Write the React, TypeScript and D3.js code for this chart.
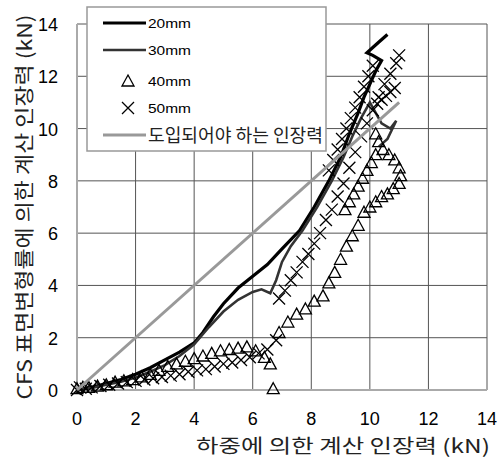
import React, { useRef, useEffect } from 'react';
import * as d3 from 'd3';

// 축 눈금
const xTicks = [0, 2, 4, 6, 8, 10, 12, 14];
const yTicks = [0, 2, 4, 6, 8, 10, 12, 14];

// 20mm (실선, 검정)
const s20: [number, number][] = [
  [0, 0], [0.5, 0.1], [1, 0.25], [1.5, 0.4], [2, 0.6], [2.5, 0.85], [3, 1.15], [3.5, 1.45],
  [4, 1.8], [4.3, 2.2], [4.66, 2.8], [5, 3.3], [5.5, 3.9], [6, 4.35], [6.5, 4.8], [7, 5.4],
  [7.6, 6.1], [8.1, 7.0], [8.6, 8.0], [9.0, 8.9], [9.3, 9.8], [9.6, 10.6], [9.8, 11.2],
  [10.0, 11.7], [10.2, 12.2], [10.4, 12.6], [10.1, 12.8], [9.9, 12.9], [10.1, 13.1],
  [10.3, 13.3], [10.6, 13.6],
];

// 30mm (실선, 진회색)
const s30: [number, number][] = [
  [0, 0], [0.5, 0.08], [1, 0.2], [1.5, 0.32], [2, 0.48], [2.5, 0.7], [3, 0.95], [3.5, 1.3],
  [4, 1.75], [4.5, 2.4], [5, 3.0], [5.5, 3.45], [6, 3.75], [6.3, 3.85], [6.6, 3.7], [6.8, 4.2],
  [7.0, 4.9], [7.3, 5.5], [7.7, 6.1], [8.2, 7.0], [8.7, 8.0], [9.1, 8.9], [9.4, 9.7],
  [9.7, 10.4], [10.0, 11.0], [10.2, 10.6], [10.4, 10.2], [10.7, 10.0], [10.9, 10.3],
  [10.6, 9.6], [10.3, 9.3],
];

// 40mm (삼각형)
const s40: [number, number][] = [
  [0, 0.05], [0.2, 0.1], [0.4, 0.1], [0.7, 0.15], [1.0, 0.2], [1.3, 0.3], [1.6, 0.35],
  [1.9, 0.4], [2.2, 0.5], [2.5, 0.6], [2.8, 0.75], [3.1, 0.9], [3.4, 1.0], [3.7, 1.1],
  [4.0, 1.2], [4.3, 1.3], [4.6, 1.4], [4.9, 1.5], [5.2, 1.55], [5.5, 1.6], [5.8, 1.65],
  [6.1, 1.5], [6.4, 1.25], [6.6, 1.0], [6.7, 0.05], [6.9, 2.2], [7.2, 2.6], [7.5, 2.9],
  [7.8, 3.1], [8.1, 3.4], [8.4, 3.6], [8.6, 4.1], [8.8, 4.5], [9.0, 5.0], [9.2, 5.5],
  [9.4, 5.9], [9.6, 6.3], [9.8, 6.8], [10.0, 7.0], [10.2, 7.2], [10.4, 7.4], [10.6, 7.5],
  [10.8, 7.7], [11.0, 7.9], [11.05, 8.2], [11.0, 8.5], [10.85, 8.8], [10.65, 9.0],
  [10.45, 9.2], [10.3, 9.5], [10.2, 9.8], [10.2, 9.0], [10.05, 8.7], [9.9, 8.4],
  [9.75, 8.1], [9.6, 7.8], [9.45, 7.5], [9.3, 7.2], [9.15, 6.9],
];

// 50mm (X 표시)
const s50: [number, number][] = [
  [0, 0], [0.1, 0.1], [0.3, 0.05], [0.5, 0.1], [0.8, 0.15], [1.1, 0.2], [1.4, 0.25],
  [1.7, 0.3], [2.0, 0.35], [2.3, 0.4], [2.6, 0.45], [2.9, 0.5], [3.2, 0.55], [3.5, 0.6],
  [3.8, 0.7], [4.1, 0.75], [4.4, 0.8], [4.7, 0.9], [5.0, 1.0], [5.3, 1.05], [5.6, 1.15],
  [5.9, 1.25], [6.2, 1.4], [6.5, 1.55], [6.8, 1.9], [6.9, 3.5], [7.1, 3.8], [7.3, 4.2],
  [7.5, 4.5], [7.7, 4.9], [7.9, 5.2], [8.1, 5.6], [8.3, 6.0], [8.5, 6.5], [8.7, 6.9],
  [8.9, 7.4], [9.1, 7.9], [9.3, 8.5], [9.5, 9.1], [9.7, 9.7], [9.9, 10.2], [10.1, 10.7],
  [10.3, 11.2], [10.5, 11.7], [10.7, 12.1], [10.9, 12.5], [11.0, 12.8],
  [8.6, 8.4], [8.75, 8.8], [8.9, 9.2], [9.05, 9.6], [9.2, 10.0], [9.35, 10.4], [9.5, 10.8],
  [9.65, 11.2], [9.8, 11.6], [9.95, 12.0], [10.1, 12.4],
  [10.25, 10.95], [10.4, 11.1], [10.55, 11.25], [10.7, 11.4], [10.85, 11.55],
];

// 도입되어야 하는 인장력 (y = x)
const sTarget: [number, number][] = [[0, 0], [11, 11]];

const App = () => {
  const svgRef = useRef<SVGSVGElement>(null);

  useEffect(() => {
    const width = 503;
    const height = 460;
    const svg = d3.select(svgRef.current);
    svg.selectAll('*').remove();
    svg.attr('width', width).attr('height', height);

    const x = d3.scaleLinear().domain([0, 14]).range([77, 487]);
    const y = d3.scaleLinear().domain([0, 14]).range([390, 24]);

    const num = 'Liberation Sans, Arial, sans-serif';
    const kor = 'Noto Sans CJK KR, sans-serif';

    // 격자
    const grid = svg.append('g');
    grid.selectAll('.gx').data(xTicks.slice(1)).enter().append('line')
      .attr('x1', d => x(d)).attr('x2', d => x(d))
      .attr('y1', y(0)).attr('y2', y(14))
      .attr('stroke', '#555').attr('stroke-width', 1);
    grid.selectAll('.gy').data(yTicks.slice(1)).enter().append('line')
      .attr('x1', x(0)).attr('x2', x(14))
      .attr('y1', d => y(d)).attr('y2', d => y(d))
      .attr('stroke', '#555').attr('stroke-width', 1);
    // 축선
    grid.append('line').attr('x1', x(0)).attr('x2', x(14)).attr('y1', y(0)).attr('y2', y(0))
      .attr('stroke', '#aaa').attr('stroke-width', 2);
    grid.append('line').attr('x1', x(0)).attr('x2', x(0)).attr('y1', y(0)).attr('y2', y(14))
      .attr('stroke', '#aaa').attr('stroke-width', 2);

    // 눈금 라벨
    svg.selectAll('.tx').data(xTicks).enter().append('text')
      .attr('x', d => x(d)).attr('y', 425)
      .attr('text-anchor', 'middle')
      .style('font-family', num).style('font-size', '18px')
      .text(d => d);
    svg.selectAll('.ty').data(yTicks).enter().append('text')
      .attr('x', 58).attr('y', d => y(d) + 7)
      .attr('text-anchor', 'end')
      .style('font-family', num).style('font-size', '18px')
      .text(d => d);

    // 축 제목
    svg.append('text')
      .attr('transform', `translate(32,207) rotate(-90)`)
      .attr('text-anchor', 'middle')
      .attr('textLength', 385).attr('lengthAdjust', 'spacingAndGlyphs')
      .style('font-family', kor).style('font-size', '20px').attr('fill', '#222')
      .text('CFS 표면변형률에 의한 계산 인장력 (kN)');
    svg.append('text')
      .attr('x', 196).attr('y', 453)
      .attr('textLength', 294).attr('lengthAdjust', 'spacingAndGlyphs')
      .style('font-family', kor).style('font-size', '19px').attr('fill', '#222')
      .text('하중에 의한 계산 인장력 (kN)');

    const line = d3.line<[number, number]>().x(d => x(d[0])).y(d => y(d[1]));

    const tri = (g: any, cx: number, cy: number) => {
      g.append('path')
        .attr('d', `M${cx},${cy - 6}L${cx + 6},${cy + 5}L${cx - 6},${cy + 5}Z`)
        .attr('fill', 'none').attr('stroke', '#000').attr('stroke-width', 1.3);
    };
    const cross = (g: any, cx: number, cy: number) => {
      g.append('path')
        .attr('d', `M${cx - 6},${cy - 6}L${cx + 6},${cy + 6}M${cx - 6},${cy + 6}L${cx + 6},${cy - 6}`)
        .attr('fill', 'none').attr('stroke', '#000').attr('stroke-width', 1.3);
    };

    // 시리즈
    svg.append('path').datum(s20).attr('d', line)
      .attr('fill', 'none').attr('stroke', '#000').attr('stroke-width', 3.2);
    svg.append('path').datum(s30).attr('d', line)
      .attr('fill', 'none').attr('stroke', '#333').attr('stroke-width', 2.6);
    const g40 = svg.append('g');
    s40.forEach(d => tri(g40, x(d[0]), y(d[1])));
    const g50 = svg.append('g');
    s50.forEach(d => cross(g50, x(d[0]), y(d[1])));
    svg.append('path').datum(sTarget).attr('d', line)
      .attr('fill', 'none').attr('stroke', '#999').attr('stroke-width', 3);

    // 범례
    const lg = svg.append('g');
    lg.append('rect').attr('x', 87).attr('y', 7).attr('width', 239).attr('height', 144)
      .attr('fill', '#fff').attr('stroke', '#999').attr('stroke-width', 1.5);
    lg.append('line').attr('x1', 103).attr('x2', 146).attr('y1', 23).attr('y2', 23)
      .attr('stroke', '#000').attr('stroke-width', 3.2);
    lg.append('line').attr('x1', 103).attr('x2', 146).attr('y1', 50).attr('y2', 50)
      .attr('stroke', '#333').attr('stroke-width', 2.6);
    tri(lg, 128, 81);
    cross(lg, 128, 108);
    lg.append('line').attr('x1', 103).attr('x2', 146).attr('y1', 135).attr('y2', 135)
      .attr('stroke', '#999').attr('stroke-width', 3);
    const labels = ['20mm', '30mm', '40mm', '50mm'];
    const ly = [23, 50, 81, 108];
    labels.forEach((t, i) => {
      lg.append('text').attr('x', 148).attr('y', ly[i] + 5)
        .attr('textLength', 43).attr('lengthAdjust', 'spacingAndGlyphs')
        .style('font-family', num).style('font-size', '13px')
        .text(t);
    });
    lg.append('text').attr('x', 148).attr('y', 142)
      .attr('textLength', 175).attr('lengthAdjust', 'spacingAndGlyphs')
      .style('font-family', kor).style('font-size', '18px').attr('fill', '#222')
      .text('도입되어야 하는 인장력');
  }, []);

  return (
    <svg ref={svgRef} style={{ position: 'absolute', left: 0, top: 0, background: '#fff' }}></svg>
  );
};

export default App;
